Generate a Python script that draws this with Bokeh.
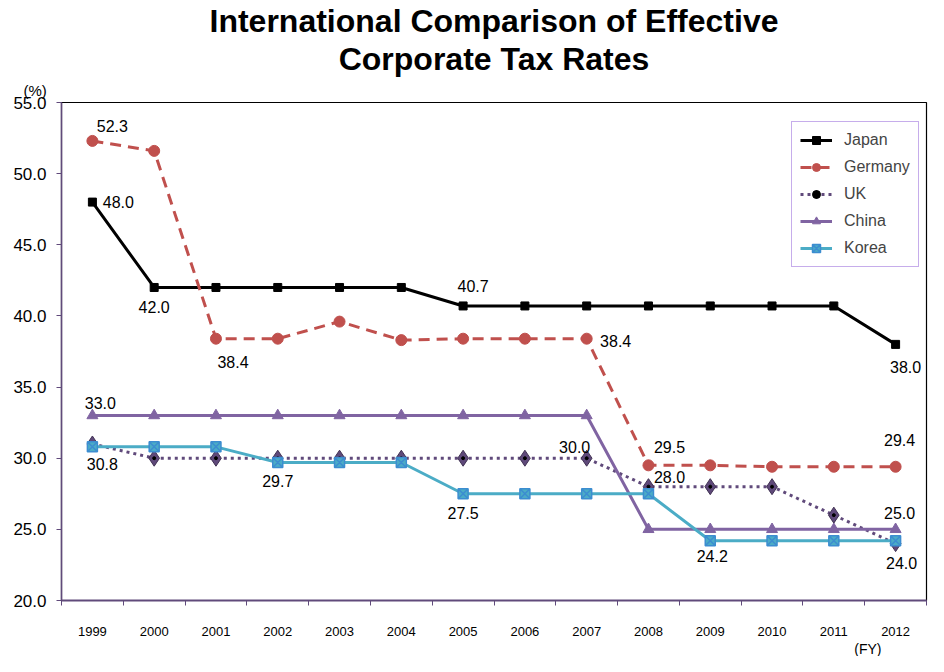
from bokeh.plotting import figure
from bokeh.models import (LabelSet, ColumnDataSource, FixedTicker, Title,
                          NumeralTickFormatter, BasicTickFormatter)
from bokeh.core.properties import value
from bokeh.embed import file_html
from bokeh.resources import INLINE

# ---------------- data ----------------
years = [1999, 2000, 2001, 2002, 2003, 2004, 2005, 2006, 2007, 2008, 2009, 2010, 2011, 2012]
japan = [48.0, 42.0, 42.0, 42.0, 42.0, 42.0, 40.7, 40.7, 40.7, 40.7, 40.7, 40.7, 40.7, 38.0]
germany = [52.3, 51.6, 38.4, 38.4, 39.6, 38.3, 38.4, 38.4, 38.4, 29.5, 29.5, 29.4, 29.4, 29.4]
uk = [31.0, 30.0, 30.0, 30.0, 30.0, 30.0, 30.0, 30.0, 30.0, 28.0, 28.0, 28.0, 26.0, 24.0]
china = [33.0, 33.0, 33.0, 33.0, 33.0, 33.0, 33.0, 33.0, 33.0, 25.0, 25.0, 25.0, 25.0, 25.0]
korea = [30.8, 30.8, 30.8, 29.7, 29.7, 29.7, 27.5, 27.5, 27.5, 27.5, 24.2, 24.2, 24.2, 24.2]
y_ticks = [20, 25, 30, 35, 40, 45, 50, 55]
title_lines = ["International Comparison of Effective", "Corporate Tax Rates"]
y_unit = "(%)"
x_unit = "(FY)"

series = {"Japan": japan, "Germany": germany, "UK": uk, "China": china, "Korea": korea}

# which points carry a value label: (series, year, dx px, dy px downwards)
annotated = [
    ("Germany", 1999, 20, -15), ("Japan", 1999, 26, 0), ("Japan", 2000, 0, 20),
    ("Germany", 2001, 17, 23), ("Japan", 2005, 10, -20), ("Germany", 2007, 29, 2),
    ("Japan", 2012, 10, 23), ("China", 1999, 8, -13), ("Korea", 1999, 10, 17),
    ("Korea", 2002, 0, 19), ("Korea", 2005, 0, 19), ("UK", 2007, -12, -11),
    ("Germany", 2008, 21, -18), ("UK", 2008, 21, -10), ("Korea", 2009, 2, 15),
    ("Germany", 2012, 4, -27), ("China", 2012, 4, -16), ("UK", 2012, 6, 19),
]

FONT = "Liberation Sans"
AXIS_PURPLE = "#604A7B"

p = figure(width=928, height=656, x_range=(1998.5, 2012.5), y_range=(20, 55),
           title=None, output_backend="svg", toolbar_location=None,
           min_border_left=61, min_border_right=2, min_border_top=97, min_border_bottom=56,
           background_fill_color="white", border_fill_color="white")
p.outline_line_color = "black"
p.outline_line_width = 1.2
p.xgrid.grid_line_color = None
p.ygrid.grid_line_color = None

# y axis
p.yaxis.ticker = FixedTicker(ticks=y_ticks)
p.yaxis.formatter = NumeralTickFormatter(format="0.0")
p.yaxis.major_label_text_font = FONT
p.yaxis.major_label_text_font_size = "17px"
p.yaxis.major_label_text_color = "black"
p.yaxis.axis_line_color = AXIS_PURPLE
p.yaxis.axis_line_width = 1.5
p.yaxis.major_tick_line_color = AXIS_PURPLE
p.yaxis.major_tick_out = 5
p.yaxis.major_tick_in = 0
p.yaxis.minor_tick_line_color = None
p.yaxis.major_label_standoff = 10

# x axis: labels at years, ticks at boundaries
p.xaxis.ticker = FixedTicker(ticks=years,
                             minor_ticks=[y - 0.5 for y in years] + [years[-1] + 0.5])
p.xaxis.formatter = BasicTickFormatter(use_scientific=False)
p.xaxis.major_label_text_font = FONT
p.xaxis.major_label_text_font_size = "13px"
p.xaxis.major_label_text_color = "black"
p.xaxis.axis_line_color = AXIS_PURPLE
p.xaxis.axis_line_width = 2
p.xaxis.major_tick_line_color = None
p.xaxis.major_tick_out = 0
p.xaxis.major_tick_in = 0
p.xaxis.minor_tick_line_color = AXIS_PURPLE
p.xaxis.minor_tick_out = 5
p.xaxis.minor_tick_in = 0
p.xaxis.major_label_standoff = 21

# series
p.line(years, japan, color="black", line_width=3, legend_label="Japan")
p.scatter(years, japan, marker="square", size=8, color="black", legend_label="Japan")

p.line(years, germany, color="#C0504D", line_width=3, line_dash="11 7", legend_label="Germany")
p.scatter(years, germany, marker="circle", size=11, color="#C0504D", legend_label="Germany")

p.line(years, uk, color=AXIS_PURPLE, line_width=3, line_dash="3 4", legend_label="UK")
p.scatter(years, uk, marker="diamond", size=16, fill_color="#5F497A",
          line_color="#403152", legend_label="UK")
p.scatter(years, uk, marker="circle", size=3, color="black", legend_label="UK")

p.line(years, china, color="#8064A2", line_width=3, legend_label="China")
p.scatter(years, china, marker="triangle", size=11, color="#8064A2", legend_label="China")

p.line(years, korea, color="#4BACC6", line_width=3, legend_label="Korea")
p.scatter(years, korea, marker="square_x", size=10, fill_color="#4BACC6",
          line_color="#3C8DD0", line_width=1.5, legend_label="Korea")

# value labels
lx, ly, lt, ldx, ldy = [], [], [], [], []
for name, yr, dx, dy in annotated:
    v = series[name][years.index(yr)]
    lx.append(yr)
    ly.append(v)
    lt.append(f"{v:.1f}")
    ldx.append(dx)
    ldy.append(-dy)
src = ColumnDataSource(dict(x=lx, y=ly, text=lt, dx=ldx, dy=ldy))
p.add_layout(LabelSet(x="x", y="y", text="text", source=src, x_offset="dx", y_offset="dy",
                      text_align="center", text_baseline="middle",
                      text_font=value(FONT), text_font_size="16px", text_color="black"))

# legend
lg = p.legend[0]
lg.location = (730, 333)
lg.margin = 0
lg.border_line_color = "#8E5BD8"
lg.border_line_width = 1.5
lg.background_fill_color = "white"
lg.background_fill_alpha = 1
lg.label_text_font = FONT
lg.label_text_font_size = "16px"
lg.glyph_width = 32
lg.glyph_height = 20
lg.spacing = 7
lg.padding = 8
lg.label_standoff = 12

# titles (nearest to the frame first)
p.add_layout(Title(text=y_unit, align="left", offset=-38, standoff=7, text_font=FONT,
                   text_font_style="normal", text_font_size="15px", text_color="black"), "above")
p.add_layout(Title(text=title_lines[1], align="center", offset=-3, standoff=0, text_font=FONT,
                   text_font_style="bold", text_font_size="32px", text_color="black"), "above")
p.add_layout(Title(text=title_lines[0], align="center", offset=-3, standoff=0, text_font=FONT,
                   text_font_style="bold", text_font_size="32px", text_color="black"), "above")
p.add_layout(Title(text=x_unit, align="right", offset=45, standoff=0, text_font=FONT,
                   text_font_style="normal", text_font_size="14px", text_color="black"), "below")

open("out.html", "w").write(file_html(p, INLINE))
